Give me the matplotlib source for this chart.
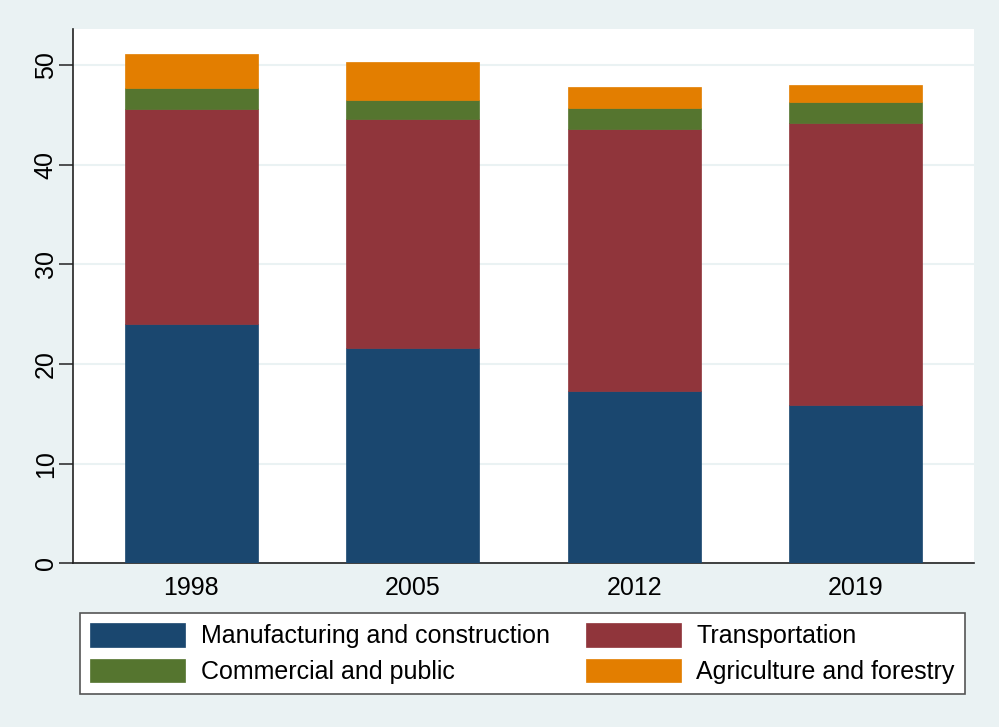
import matplotlib
matplotlib.use("Agg")
import matplotlib.pyplot as plt
import numpy as np

years = ["1998", "2005", "2012", "2019"]
manufacturing = [24.05, 21.64, 17.26, 15.93]
transportation = [21.55, 22.90, 26.28, 28.25]
commercial = [2.05, 1.95, 2.18, 2.07]
agriculture = [3.45, 3.80, 2.03, 1.77]

series_names = ["Manufacturing and construction", "Transportation",
                "Commercial and public", "Agriculture and forestry"]
colors = ["#1a476f", "#90353b", "#55752f", "#e37e00"]
yticks = [0, 10, 20, 30, 40, 50]

plt.rcParams['font.family'] = ['Liberation Sans', 'DejaVu Sans']
bg = "#eaf2f3"
fs = 18

fig = plt.figure(figsize=(9.99, 7.27), dpi=100, facecolor=bg)
ax = fig.add_axes([0.0731, 0.2249, 0.9019, 0.7352])
ax.set_facecolor("white")

x = np.arange(len(years))
bottom = np.zeros(len(years))
handles = []
for vals, c, name in zip([manufacturing, transportation, commercial, agriculture],
                         colors, series_names):
    b = ax.bar(x, vals, width=0.6, bottom=bottom, color=c, label=name,
               edgecolor=c, linewidth=0.5, zorder=3)
    handles.append(b)
    bottom += np.array(vals)

ax.set_xlim(-0.533, 3.533)
ax.set_ylim(0, 53.6)
ax.set_xticks(x)
ax.set_xticklabels(years, fontsize=fs)
ax.set_yticks(yticks)
ax.set_yticklabels([str(t) for t in yticks], fontsize=fs, rotation=90, va='center')
ax.tick_params(axis='x', length=0, pad=9)
ax.tick_params(axis='y', length=10, width=1.2, color='#333333', pad=1)
ax.yaxis.grid(True, color=bg, linewidth=1.5, zorder=0)
ax.set_axisbelow(True)
for s in ['top', 'right']:
    ax.spines[s].set_visible(False)
ax.spines['left'].set_color('#222222')
ax.spines['bottom'].set_color('#222222')
ax.spines['left'].set_linewidth(1.2)
ax.spines['bottom'].set_linewidth(1.2)

# legend filled row-wise: reorder for column-major layout
order = [0, 2, 1, 3]
leg = fig.legend(handles=[handles[i] for i in order],
                 labels=[series_names[i] for i in order], ncol=2,
                 loc='upper center', bbox_to_anchor=(0.523, 0.1568),
                 fontsize=fs, frameon=True, fancybox=False, framealpha=1,
                 handlelength=3.8, handleheight=1.07, handletextpad=0.62,
                 columnspacing=1.45, labelspacing=0.41, borderpad=0.4,
                 borderaxespad=0)
leg.get_frame().set_edgecolor('#555555')
leg.get_frame().set_linewidth(1.2)
leg.get_frame().set_facecolor('white')

fig.savefig("out.png", dpi=100, facecolor=bg)
